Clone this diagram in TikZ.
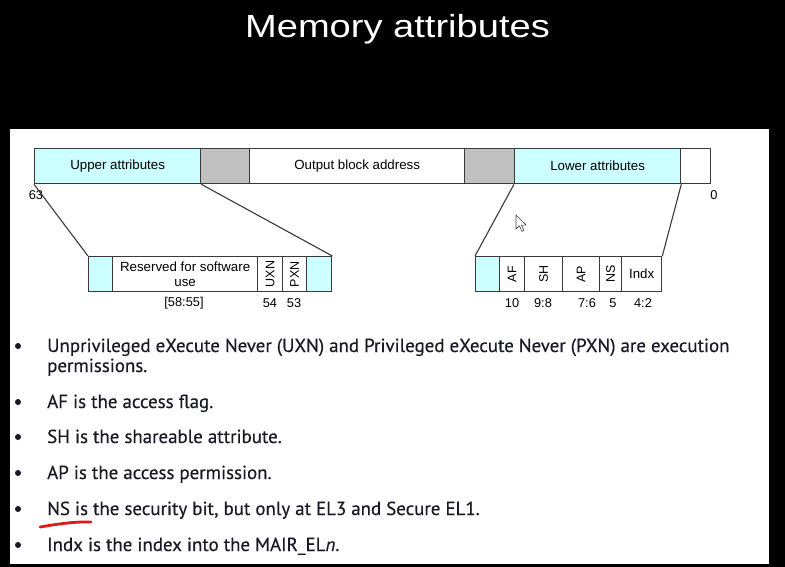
\documentclass[tikz,border=0pt]{standalone}
\usepackage{fontspec}
\setmainfont{Liberation Sans}
\newfontfamily\bodyfont[FakeBold=0.35]{PT Sans}
\definecolor{attrcyan}{HTML}{CCFFFF}
\definecolor{padgray}{HTML}{C0C0C0}
\definecolor{cellline}{HTML}{3A3A3A}
\definecolor{bodyink}{HTML}{1A1A26}
\definecolor{penred}{HTML}{DD1A1A}
\begin{document}
\begin{tikzpicture}[x=1pt,y=-1pt,
  cell/.style={draw=cellline, line width=1.3pt, minimum height=35pt, inner sep=0pt,
    anchor=north west, fill=white, font=\fontsize{13.3}{15}\selectfont},
  attr/.style={cell, fill=attrcyan},
  pad/.style={cell, fill=padgray},
  vcell/.style={cell, font=\fontsize{12.5}{14}\selectfont},
  bitno/.style={inner sep=0pt, font=\fontsize{12.8}{14}\selectfont},
  zoomline/.style={draw=cellline, line width=1.1pt},
  btext/.style={anchor=base west, inner sep=0pt, text=bodyink,
    font=\bodyfont\fontsize{18.9}{21}\selectfont},
  bdot/.style={circle, fill=bodyink, inner sep=0pt, minimum size=6pt}]
% page: black frame with a white slide panel
\fill[black] (0,0) rectangle (785,567);
\fill[white] (10,129) rectangle (769,564);
\useasboundingbox (0,0) rectangle (785,567);

\node[anchor=base, text=white, xscale=1.19, inner sep=0pt,
  font=\fontsize{32}{36}\selectfont] (title) at (397.5,38) {Memory attributes};

% block descriptor, full width
\node[attr, minimum width=166pt] (ua)  at (34,148)  {Upper attributes};
\node[pad,  minimum width=49pt]  (g1)  at (200,148) {};
\node[cell, minimum width=215pt] (oba) at (249,148) {Output block address};
\node[pad,  minimum width=50pt]  (g2)  at (464,148) {};
\node[attr, minimum width=166pt] (la)  at (514,148) {Lower attributes};
\node[cell, minimum width=30pt]  (lw)  at (680,148) {};
\node[bitno] (b63) at (36,195) {63};
\node[bitno] (b0)  at (714,195) {0};

% upper attribute field
\node[attr, minimum width=24pt]  (uc1) at (88,256)  {};
\node[cell, minimum width=145pt, align=center] (rsv) at (112,256)
  {Reserved for software\\use};
\node[vcell, minimum width=25pt] (uxn) at (257,256) {\rotatebox{90}{UXN}};
\node[vcell, minimum width=24pt] (pxn) at (282,256) {\rotatebox{90}{PXN}};
\node[attr, minimum width=25pt]  (uc2) at (306,256) {};
\node[bitno] (n5855) at (184,303) {[58:55]};
\node[bitno] (n54)   at (270,303) {54};
\node[bitno] (n53)   at (294,303) {53};

% lower attribute field
\node[attr, minimum width=24pt]  (lc1)  at (475,256) {};
\node[vcell, minimum width=25pt] (af)   at (499,256) {\rotatebox{90}{AF}};
\node[vcell, minimum width=38pt] (sh)   at (524,256) {\rotatebox{90}{SH}};
\node[vcell, minimum width=37pt] (ap)   at (562,256) {\rotatebox{90}{AP}};
\node[vcell, minimum width=22pt] (ns)   at (599,256) {\rotatebox{90}{NS}};
\node[cell,  minimum width=40pt] (indx) at (621,256) {Indx};
\node[bitno] (n10) at (512,303) {10};
\node[bitno] (n98) at (543,303) {9:8};
\node[bitno] (n76) at (587,303) {7:6};
\node[bitno] (n5)  at (613,303) {5};
\node[bitno] (n42) at (643,303) {4:2};

% expansion lines
\draw[zoomline] (ua.south west) -- (uc1.north west);
\draw[zoomline] (ua.south east) -- (uc2.north east);
\draw[zoomline] (la.south west) -- (lc1.north west);
\draw[zoomline] (la.south east) -- (indx.north east);

% mouse pointer
\draw[fill=white, draw=black!75, line width=0.6pt, line join=round]
  (516,215) -- ++(0,14) -- ++(3.4,-3.2) -- ++(2.6,5.6) -- ++(2,-0.9)
  -- ++(-2.6,-5.4) -- ++(4.8,0) -- cycle;

% notes
\node[bdot] (d1) at (18,346) {};
\node[btext] (t1) at (47,352) {Unprivileged eXecute Never (UXN) and Privileged eXecute Never (PXN) are execution};
\node[btext] (t1b) at (47,372) {permissions.};
\node[bdot] (d2) at (18,402) {};
\node[btext] (t2) at (47,408) {AF is the access flag.};
\node[bdot] (d3) at (18,437) {};
\node[btext] (t3) at (47,443) {SH is the shareable attribute.};
\node[bdot] (d4) at (18,473) {};
\node[btext] (t4) at (47,479) {AP is the access permission.};
\node[bdot] (d5) at (18,509) {};
\node[btext] (t5) at (47,515) {NS is the security bit, but only at EL3 and Secure EL1.};
\node[bdot] (d6) at (18,545) {};
\node[btext] (t6) at (47,551) {Indx is the index into the MAIR\_EL\textit{n}.};

% pen mark under "NS is"
\draw[penred, line width=2.8pt, line cap=round]
  (40,527) .. controls (58,524) and (74,521.5) .. (91,522);
\end{tikzpicture}
\end{document}
